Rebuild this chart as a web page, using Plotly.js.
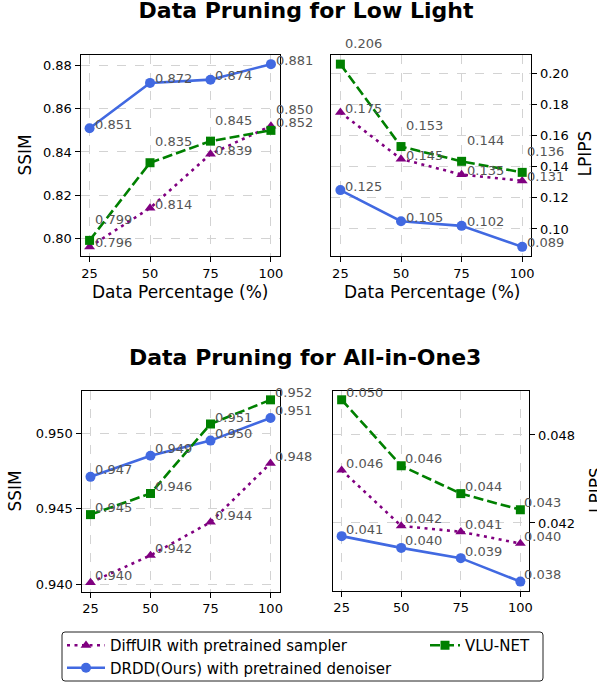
<!DOCTYPE html>
<html><head><meta charset="utf-8">
<script src="https://cdn.plot.ly/plotly-3.0.1.min.js"></script>
<style>html,body{margin:0;padding:0;background:#fff}#chart{width:597px;height:686px}</style>
</head><body><div id="chart"></div>
<script>
// ---------- data ----------
const pct = [25, 50, 75, 100];
const xTickLabels = ['25', '50', '75', '100'];

// Low Light, SSIM
const llSsimDiffuir = [0.796, 0.814, 0.839, 0.852];
const llSsimDrdd    = [0.851, 0.872, 0.8735, 0.8807];
const llSsimVlu     = [0.799, 0.835, 0.845, 0.850];
const llSsimDiffuirLbl = ['0.796', '0.814', '0.839', '0.852'];
const llSsimDrddLbl    = ['0.851', '0.872', '0.874', '0.881'];
const llSsimVluLbl     = ['0.799', '0.835', '0.845', '0.850'];

// Low Light, LPIPS
const llLpipsDiffuir = [0.175, 0.145, 0.135, 0.131];
const llLpipsDrdd    = [0.125, 0.105, 0.102, 0.0885];
const llLpipsVlu     = [0.206, 0.153, 0.1435, 0.1364];
const llLpipsDiffuirLbl = ['0.175', '0.145', '0.135', '0.131'];
const llLpipsDrddLbl    = ['0.125', '0.105', '0.102', '0.089'];
const llLpipsVluLbl     = ['0.206', '0.153', '0.144', '0.136'];

// All-in-One3, SSIM
const aoSsimDiffuir = [0.9401, 0.9419, 0.9441, 0.9480];
const aoSsimDrdd    = [0.9471, 0.9485, 0.9495, 0.9510];
const aoSsimVlu     = [0.9446, 0.9460, 0.9506, 0.9522];
const aoSsimDiffuirLbl = ['0.940', '0.942', '0.944', '0.948'];
const aoSsimDrddLbl    = ['0.947', '0.949', '0.950', '0.951'];
const aoSsimVluLbl     = ['0.945', '0.946', '0.951', '0.952'];

// All-in-One3, LPIPS
const aoLpipsDiffuir = [0.0456, 0.0418, 0.0414, 0.0406];
const aoLpipsDrdd    = [0.0411, 0.0403, 0.0396, 0.0380];
const aoLpipsVlu     = [0.0504, 0.0459, 0.0440, 0.0429];
const aoLpipsDiffuirLbl = ['0.046', '0.042', '0.041', '0.040'];
const aoLpipsDrddLbl    = ['0.041', '0.040', '0.039', '0.038'];
const aoLpipsVluLbl     = ['0.050', '0.046', '0.044', '0.043'];

const seriesNames = ['DiffUIR with pretrained sampler', 'DRDD(Ours) with pretrained denoiser', 'VLU-NET'];

const llSsimTicks = [0.80, 0.82, 0.84, 0.86, 0.88];
const llSsimTickText = ['0.80', '0.82', '0.84', '0.86', '0.88'];
const llLpipsTicks = [0.10, 0.12, 0.14, 0.16, 0.18, 0.20];
const llLpipsTickText = ['0.10', '0.12', '0.14', '0.16', '0.18', '0.20'];
const aoSsimTicks = [0.940, 0.945, 0.950];
const aoSsimTickText = ['0.940', '0.945', '0.950'];
const aoLpipsTicks = [0.042, 0.048];
const aoLpipsTickText = ['0.042', '0.048'];

// ---------- layout helpers ----------
const W = 597, H = 686;
const px = v => v / W;
const py = v => 1 - v / H;
function padRange(arrs) {
  const all = [].concat(...arrs);
  const mn = Math.min(...all), mx = Math.max(...all);
  const d = (mx - mn) * 0.05;
  return [mn - d, mx + d];
}
const FONT = 'DejaVu Sans, Verdana, sans-serif';

const styles = [
  {color: '#800080', dash: '3px,4.5px', symbol: 'triangle-up', size: 9.5, rank: 1},
  {color: '#4169E1', dash: 'solid', symbol: 'circle', size: 10, rank: 3},
  {color: '#008000', dash: '10px,4px', symbol: 'square', size: 9, rank: 2}
];

const panels = [
  {id: '', box: [80.5, 55, 280, 256], side: 'left',
   series: [llSsimDiffuir, llSsimDrdd, llSsimVlu], labels: [llSsimDiffuirLbl, llSsimDrddLbl, llSsimVluLbl],
   ticks: llSsimTicks, tickText: llSsimTickText, shifts: [4, 4, 21], xshift: 3},
  {id: '2', box: [331.3, 55, 531.3, 256], side: 'right',
   series: [llLpipsDiffuir, llLpipsDrdd, llLpipsVlu], labels: [llLpipsDiffuirLbl, llLpipsDrddLbl, llLpipsVluLbl],
   ticks: llLpipsTicks, tickText: llLpipsTickText, shifts: [4, 4, 21], xshift: 3},
  {id: '3', box: [81.5, 390.7, 279.5, 591.7], side: 'left',
   series: [aoSsimDiffuir, aoSsimDrdd, aoSsimVlu], labels: [aoSsimDiffuirLbl, aoSsimDrddLbl, aoSsimVluLbl],
   ticks: aoSsimTicks, tickText: aoSsimTickText, shifts: [7, 7, 7], xshift: 2},
  {id: '4', box: [332.7, 390.7, 529.3, 590.7], side: 'right',
   series: [aoLpipsDiffuir, aoLpipsDrdd, aoLpipsVlu], labels: [aoLpipsDiffuirLbl, aoLpipsDrddLbl, aoLpipsVluLbl],
   ticks: aoLpipsTicks, tickText: aoLpipsTickText, shifts: [7, 7, 7], xshift: 2}
];

const traces = [];
const annotations = [];
function roundRect(x0, y0, x1, y1, r) {
  const X = v => px(v), Y = v => py(v);
  return `M${X(x0 + r)},${Y(y0)} L${X(x1 - r)},${Y(y0)} Q${X(x1)},${Y(y0)} ${X(x1)},${Y(y0 + r)} ` +
         `L${X(x1)},${Y(y1 - r)} Q${X(x1)},${Y(y1)} ${X(x1 - r)},${Y(y1)} L${X(x0 + r)},${Y(y1)} ` +
         `Q${X(x0)},${Y(y1)} ${X(x0)},${Y(y1 - r)} L${X(x0)},${Y(y0 + r)} Q${X(x0)},${Y(y0)} ${X(x0 + r)},${Y(y0)} Z`;
}
const legendCommon = {xanchor: 'left', yanchor: 'top', orientation: 'v', tracegroupgap: 0,
  bgcolor: 'rgba(0,0,0,0)', borderwidth: 0, font: {family: FONT, size: 15, color: '#000'}};
const layout = {
  width: W, height: H,
  margin: {l: 0, r: 0, t: 0, b: 0, autoexpand: false},
  paper_bgcolor: '#fff', plot_bgcolor: '#fff',
  font: {family: FONT, color: '#000', size: 13},
  title: {text: 'Data Pruning for Low Light', x: px(306), xref: 'paper', xanchor: 'center',
          y: py(10.5), yref: 'container', yanchor: 'middle',
          font: {family: FONT, size: 22, weight: 'bold', color: '#000'}},
  showlegend: true,
  legend: Object.assign({x: px(62), y: py(629), itemwidth: 38}, legendCommon),
  legend2: Object.assign({x: px(425), y: py(629), itemwidth: 30}, legendCommon),
  shapes: [{type: 'path', xref: 'paper', yref: 'paper', layer: 'below',
            path: roundRect(62, 632, 543, 681, 3),
            line: {color: '#222', width: 1}, fillcolor: 'rgba(255,255,255,0.8)'}],
  annotations: annotations
};

panels.forEach((p, pi) => {
  const xa = 'x' + p.id, ya = 'y' + p.id;
  const xr = [pct[0] - (pct[3] - pct[0]) * 0.05, pct[3] + (pct[3] - pct[0]) * 0.05];
  const axisCommon = {
    showline: true, mirror: true, linecolor: '#000', linewidth: 1,
    ticks: 'outside', ticklen: 5, tickwidth: 1, tickcolor: '#000',
    showgrid: true, gridcolor: '#d3d3d3', griddash: 'dash', gridwidth: 1,
    zeroline: false, automargin: false, tickfont: {family: FONT, size: 13, color: '#000'}
  };
  layout['xaxis' + p.id] = Object.assign({}, axisCommon, {
    domain: [px(p.box[0]), px(p.box[2])], anchor: ya, range: xr,
    tickmode: 'array', tickvals: pct, ticktext: xTickLabels
  });
  layout['yaxis' + p.id] = Object.assign({}, axisCommon, {
    domain: [py(p.box[3]), py(p.box[1])], anchor: xa, side: p.side,
    range: padRange(p.series), tickmode: 'array', tickvals: p.ticks, ticktext: p.tickText
  });
  p.series.forEach((vals, si) => {
    const s = styles[si];
    traces.push({
      type: 'scatter', mode: 'lines+markers', x: pct, y: vals, xaxis: xa, yaxis: ya,
      name: seriesNames[si], legendgroup: 's' + si, showlegend: pi === 0,
      legend: si === 2 ? 'legend2' : 'legend', legendrank: s.rank,
      line: {color: s.color, width: 2.6, dash: s.dash},
      marker: {color: s.color, symbol: s.symbol, size: s.size, line: {width: 0}},
      cliponaxis: false
    });
    vals.forEach((v, i) => {
      annotations.push({
        xref: xa, yref: ya, x: pct[i], y: v, text: p.labels[si][i], showarrow: false,
        xanchor: 'left', yanchor: 'middle', xshift: p.xshift, yshift: p.shifts[si],
        font: {family: FONT, size: 13, color: '#555'}
      });
    });
  });
});

// row title 2
annotations.push({xref: 'paper', yref: 'paper', x: px(305), y: py(357), xanchor: 'center', yanchor: 'middle',
  text: 'Data Pruning for All-in-One3', showarrow: false,
  font: {family: FONT, size: 22, weight: 'bold', color: '#000'}});
// axis titles
const axTitle = (text, x, y, angle) => ({xref: 'paper', yref: 'paper', x: px(x), y: py(y),
  xanchor: 'center', yanchor: 'middle', text: text, showarrow: false, textangle: angle,
  font: {family: FONT, size: 17, color: '#000'}});
annotations.push(axTitle('SSIM', 24, 155.5, -90));
annotations.push(axTitle('Data Percentage (%)', 180.3, 292, 0));
annotations.push(axTitle('Data Percentage (%)', 431.7, 292, 0));
annotations.push(axTitle('LPIPS', 584.5, 154, -90));
annotations.push(axTitle('SSIM', 14.5, 491, -90));
annotations.push(axTitle('LPIPS', 596, 490, -90));

Plotly.newPlot('chart', traces, layout, {displayModeBar: false, staticPlot: true});
</script>
</body></html>
